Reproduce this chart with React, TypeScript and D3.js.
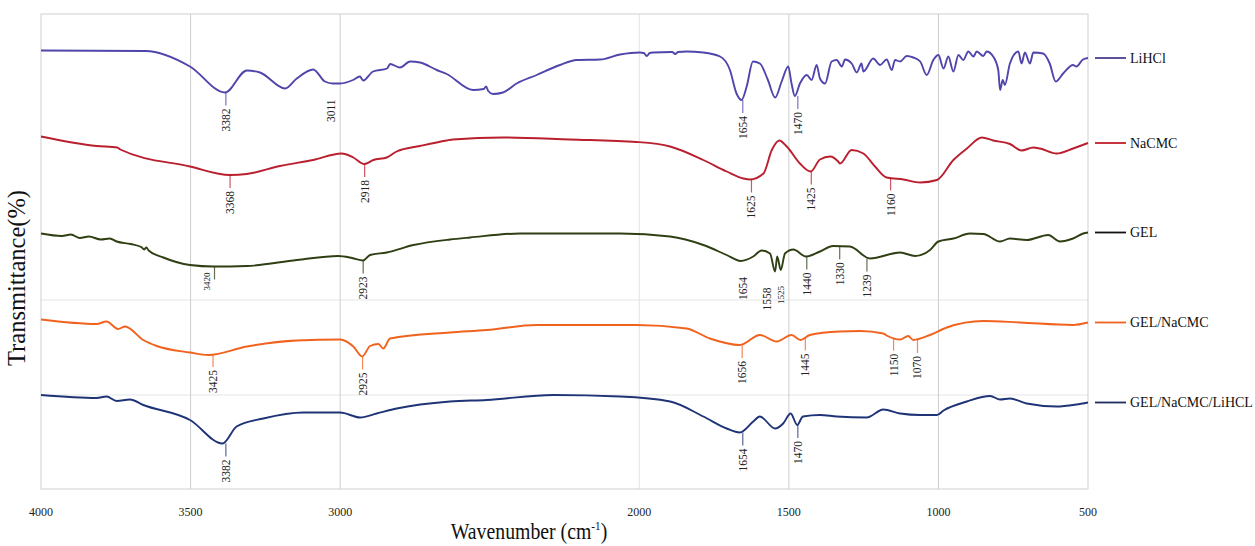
import React, { useEffect, useRef } from 'react';
import * as d3 from 'd3';

type Pt = [number, number];

// [wavenumber (cm-1), stacked transmittance]
const lihcl: Pt[] = [
  [4000, 87.7], [3650, 87.6], [3502, 84.5], [3385, 79.3], [3312, 83.7], [3268, 83.3], [3184, 80.1],
  [3145, 82.1], [3090, 83.9], [3051, 81.5], [3024, 81.1], [3000, 81.1], [2957, 81.8], [2934, 82.5],
  [2923, 81.7], [2890, 83.5], [2843, 84.1], [2833, 85.0], [2800, 84.3], [2766, 85.5], [2733, 85.3],
  [2677, 83.8], [2644, 83.0], [2556, 79.8], [2520, 80.0], [2512, 80.5], [2505, 79.6], [2489, 79.0],
  [2456, 79.3], [2410, 81.1], [2343, 82.8], [2265, 84.8], [2209, 85.8], [2131, 85.9], [2064, 86.9],
  [1998, 87.3], [1985, 87.2], [1975, 86.6], [1965, 87.2], [1954, 87.3], [1890, 87.4], [1880, 87.0],
  [1870, 87.4], [1842, 87.5], [1787, 87.3], [1730, 86.5], [1697, 83.8], [1675, 79.1], [1658, 77.8],
  [1641, 80.5], [1620, 85.5], [1597, 85.1], [1570, 81.8], [1546, 78.3], [1524, 81.5], [1502, 84.5],
  [1491, 81.1], [1480, 78.6], [1463, 81.1], [1440, 82.8], [1424, 81.8], [1407, 84.8], [1396, 82.1],
  [1379, 81.1], [1357, 85.5], [1340, 85.8], [1323, 84.5], [1312, 85.9], [1290, 85.1], [1273, 83.3],
  [1257, 85.1], [1251, 83.5], [1218, 86.1], [1195, 84.8], [1173, 85.9], [1156, 83.8], [1145, 85.8],
  [1128, 85.5], [1106, 86.6], [1084, 86.3], [1061, 85.5], [1039, 82.8], [1017, 85.8], [1000, 86.8],
  [983, 84.1], [967, 86.5], [950, 83.5], [933, 86.8], [917, 85.8], [900, 87.5], [883, 86.5],
  [872, 87.5], [850, 86.6], [839, 87.5], [817, 86.5], [800, 83.8], [794, 79.8], [785, 81.8],
  [778, 80.8], [761, 85.1], [733, 87.5], [722, 85.1], [711, 87.3], [694, 85.1], [683, 87.3],
  [650, 87.1], [628, 85.1], [608, 81.5], [583, 83.1], [550, 84.8], [539, 84.5], [517, 85.9], [500, 86.2],
];

const nacmc: Pt[] = [
  [4000, 70.5], [3814, 68.6], [3745, 68.3], [3735, 67.9], [3502, 64.5], [3368, 62.8], [3312, 63.0],
  [3201, 64.6], [3090, 65.8], [2995, 67.1], [2956, 66.3], [2919, 65.0], [2889, 65.8], [2844, 66.3],
  [2811, 67.5], [2733, 68.6], [2644, 69.7], [2623, 69.9], [2456, 70.3], [2232, 69.9], [2009, 69.4],
  [1897, 68.5], [1786, 65.8], [1708, 63.5], [1652, 62.1], [1630, 61.9], [1585, 63.1], [1557, 67.8],
  [1532, 69.7], [1507, 68.5], [1463, 65.1], [1427, 63.5], [1396, 65.9], [1362, 66.5], [1335, 65.5],
  [1329, 65.1], [1290, 67.8], [1251, 67.1], [1212, 64.5], [1173, 62.3], [1117, 61.9], [1061, 61.3],
  [1005, 61.8], [950, 65.8], [905, 68.1], [855, 70.3], [817, 69.7], [761, 69.0], [722, 67.7],
  [683, 68.3], [661, 68.1], [605, 67.1], [550, 68.1], [500, 69.2],
];

const gel: Pt[] = [
  [4000, 51.1], [3930, 50.6], [3900, 50.9], [3870, 50.2], [3840, 50.5], [3800, 49.9], [3770, 50.1],
  [3747, 49.5], [3700, 49.0], [3665, 48.4], [3655, 47.9], [3648, 48.3], [3640, 47.7], [3591, 46.3],
  [3502, 44.8], [3424, 44.5], [3312, 44.6], [3145, 45.8], [3006, 46.6], [2960, 46.2], [2923, 45.7],
  [2900, 46.8], [2844, 47.3], [2755, 48.8], [2633, 49.9], [2566, 50.3], [2399, 51.1], [2064, 51.1],
  [1897, 50.5], [1786, 48.8], [1708, 46.8], [1661, 45.6], [1619, 46.5], [1591, 47.7], [1563, 47.1],
  [1546, 43.5], [1539, 46.5], [1527, 43.8], [1513, 47.1], [1485, 47.9], [1443, 46.5], [1396, 47.5],
  [1352, 48.6], [1296, 48.5], [1229, 46.1], [1128, 47.3], [1078, 46.6], [1028, 47.8], [1000, 49.5],
  [950, 50.1], [895, 51.1], [850, 51.0], [794, 49.5], [761, 50.1], [705, 49.8], [633, 50.8],
  [594, 49.5], [550, 50.1], [516, 51.1], [500, 51.3],
];

const gelNacmc: Pt[] = [
  [4000, 33.9], [3814, 33.0], [3781, 33.5], [3742, 32.0], [3719, 32.5], [3658, 29.8], [3613, 28.6],
  [3502, 27.3], [3441, 26.8], [3312, 28.5], [3145, 29.7], [3000, 29.9], [2956, 28.5], [2926, 26.5],
  [2900, 28.6], [2872, 29.0], [2856, 28.1], [2833, 30.1], [2633, 31.3], [2510, 31.8], [2343, 32.8],
  [2009, 32.8], [1842, 32.1], [1764, 30.1], [1664, 28.8], [1597, 30.8], [1541, 29.5], [1491, 30.8],
  [1461, 29.8], [1430, 30.8], [1330, 31.5], [1262, 31.6], [1184, 31.1], [1170, 30.6], [1128, 29.9],
  [1101, 30.6], [1084, 29.8], [1028, 30.8], [972, 32.3], [850, 33.6], [727, 33.3], [550, 32.8],
  [500, 33.3],
];

const gelNacmcLihcl: Pt[] = [
  [4000, 18.8], [3814, 18.2], [3781, 18.5], [3747, 17.6], [3703, 17.9], [3658, 16.8], [3502, 13.8],
  [3393, 9.1], [3346, 12.5], [3257, 14.1], [3123, 15.3], [3000, 15.3], [2933, 14.3], [2878, 15.1],
  [2811, 16.1], [2633, 17.5], [2510, 17.8], [2288, 18.8], [2064, 18.5], [1897, 17.5], [1786, 14.5],
  [1708, 12.1], [1664, 11.3], [1619, 13.5], [1597, 14.5], [1546, 12.1], [1519, 13.1], [1494, 15.1],
  [1472, 12.8], [1453, 14.5], [1396, 14.8], [1340, 14.5], [1240, 14.3], [1184, 15.9], [1128, 15.1],
  [1061, 14.8], [1005, 14.8], [983, 15.7], [905, 17.5], [827, 18.6], [794, 17.9], [761, 18.1],
  [705, 17.1], [605, 16.5], [539, 16.9], [500, 17.3],
];

const seriesNames = ['LiHCl', 'NaCMC', 'GEL', 'GEL/NaCMC', 'GEL/NaCMC/LiHCL'];
const seriesData = [lihcl, nacmc, gel, gelNacmc, gelNacmcLihcl];
const seriesColors = ['#4f45ab', '#b91f2e', '#2f3f14', '#f0621e', '#1f3477'];
const legendColors = ['#4b3f8f', '#c0202a', '#111111', '#f06020', '#1e2d5e'];

// peak labels per series
const peakLabels = [
  [3382, 3011, 1654, 1470],
  [3368, 2918, 1625, 1425, 1160],
  [3420, 2923, 1654, 1558, 1525, 1440, 1330, 1239],
  [3425, 2925, 1656, 1445, 1150, 1070],
  [3382, 1654, 1470],
];

const xTicks = [4000, 3500, 3000, 2000, 1500, 1000, 500];
const gridLines = [3500, 3000, 2000, 1500, 1000];
const panelSeparators = [37.8, 18.8];

function valueAt(data: Pt[], wn: number) {
  const near = data.filter(d => Math.abs(d[0] - wn) <= 14);
  if (near.length) return d3.min(near, d => d[1]) as number;
  for (let i = 0; i < data.length - 1; i++) {
    const a = data[i], b = data[i + 1];
    if (a[0] >= wn && b[0] <= wn) {
      const t = (a[0] - wn) / (a[0] - b[0]);
      return a[1] + t * (b[1] - a[1]);
    }
  }
  return data[data.length - 1][1];
}

const FTIR = () => {
  const ref = useRef<SVGSVGElement>(null);

  useEffect(() => {
    const width = 1255, height = 546;
    const plot = { left: 41, right: 1088, top: 14, bottom: 489 };
    const font = 'Liberation Serif, Times New Roman, serif';

    const svg = d3.select(ref.current)
      .attr('width', width)
      .attr('height', height);
    svg.selectAll('*').remove();

    const x = d3.scaleLinear().domain([4000, 500]).range([plot.left, plot.right]);
    const y = d3.scaleLinear().domain([0, 95]).range([plot.bottom, plot.top]);

    svg.append('rect')
      .attr('width', width).attr('height', height).attr('fill', '#fff');

    // panel separators
    svg.append('g')
      .selectAll('line')
      .data(panelSeparators)
      .join('line')
      .attr('x1', plot.left).attr('x2', plot.right)
      .attr('y1', d => y(d)).attr('y2', d => y(d))
      .attr('stroke', '#e6e6e6').attr('stroke-width', 1.2);

    // vertical grid
    svg.append('g')
      .selectAll('line')
      .data(gridLines)
      .join('line')
      .attr('x1', d => x(d)).attr('x2', d => x(d))
      .attr('y1', plot.top).attr('y2', plot.bottom)
      .attr('stroke', d => d === 2000 ? '#e3e3e3' : '#cdcdcd').attr('stroke-width', 1);

    // frame
    svg.append('rect')
      .attr('x', plot.left).attr('y', plot.top)
      .attr('width', plot.right - plot.left).attr('height', plot.bottom - plot.top)
      .attr('fill', 'none').attr('stroke', '#cfcfcf').attr('stroke-width', 1);

    // x tick labels
    svg.append('g')
      .selectAll('text')
      .data(xTicks)
      .join('text')
      .attr('x', d => x(d))
      .attr('y', 516)
      .attr('text-anchor', 'middle')
      .attr('font-family', font)
      .attr('font-size', 12)
      .attr('fill', '#222')
      .text(d => d);

    const line = d3.line<Pt>()
      .x(d => x(d[0]))
      .y(d => y(d[1]))
      .curve(d3.curveMonotoneX);

    seriesData.forEach((data, i) => {
      svg.append('path')
        .datum(data)
        .attr('fill', 'none')
        .attr('stroke', seriesColors[i])
        .attr('stroke-width', 1.9)
        .attr('stroke-linejoin', 'round')
        .attr('d', line);

      // peak labels
      const g = svg.append('g');
      peakLabels[i].forEach(wn => {
        const cy = y(valueAt(data, wn));
        const px = x(wn);
        const small = i === 2 && (wn === 3420 || wn === 1525);
        if (!(i === 0 && wn === 3011) && !(i === 2 && (wn === 1654 || wn === 1558 || wn === 1525))) {
          g.append('line')
            .attr('x1', px).attr('x2', px)
            .attr('y1', cy).attr('y2', cy + 13)
            .attr('stroke', seriesColors[i])
            .attr('stroke-opacity', 0.75)
            .attr('stroke-width', 1.2);
        }
        let tx = px, ty = cy + 16;
        if (i === 2 && wn === 3420) { tx = px - 8; ty = cy + 6; }
        if (i === 2 && wn === 1558) { tx = px - 5; }
        if (i === 0 && wn === 3011) { tx = px - 6; }
        g.append('text')
          .attr('transform', `translate(${tx},${ty}) rotate(-90)`)
          .attr('text-anchor', 'end')
          .attr('dominant-baseline', 'central')
          .attr('font-family', font)
          .attr('font-size', small ? 9 : 11.5)
          .attr('fill', '#222')
          .text(wn);
      });

      // legend
      const ly = y(data[data.length - 1][1]);
      svg.append('line')
        .attr('x1', 1095).attr('x2', 1126)
        .attr('y1', ly).attr('y2', ly)
        .attr('stroke', legendColors[i])
        .attr('stroke-width', 1.8);
      svg.append('text')
        .attr('x', 1130)
        .attr('y', ly)
        .attr('dominant-baseline', 'central')
        .attr('font-family', font)
        .attr('font-size', 14)
        .attr('fill', '#111')
        .text(seriesNames[i]);
    });

    // axis titles
    const xt = svg.append('text')
      .attr('transform', 'translate(529,539) scale(0.86,1)')
      .attr('text-anchor', 'middle')
      .attr('font-family', font)
      .attr('font-size', 23)
      .attr('fill', '#111');
    xt.append('tspan').text('Wavenumber (cm');
    xt.append('tspan').attr('font-size', 13).attr('dy', -9).text('-1');
    xt.append('tspan').attr('dy', 9).text(')');

    svg.append('text')
      .attr('transform', `translate(25,${278}) rotate(-90)`)
      .attr('text-anchor', 'middle')
      .attr('font-family', font)
      .attr('font-size', 25)
      .attr('textLength', 176)
      .attr('lengthAdjust', 'spacingAndGlyphs')
      .attr('fill', '#111')
      .text('Transmittance(%)');
  }, []);

  return (
    <div style={{ position: 'absolute', left: 0, top: 0 }}>
      <svg ref={ref} style={{ display: 'block' }} />
    </div>
  );
};

export default FTIR;
